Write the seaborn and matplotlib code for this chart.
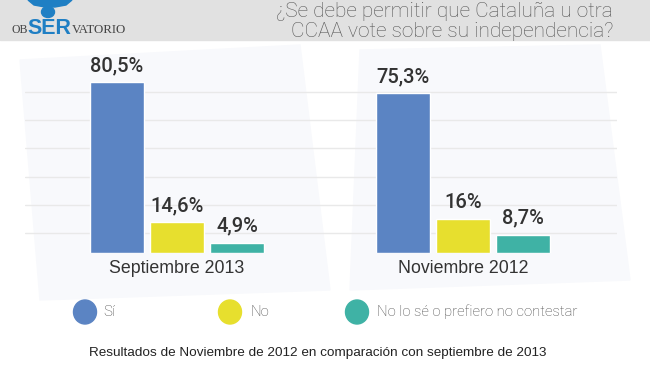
import pandas as pd
import matplotlib.pyplot as plt
import seaborn as sns
from matplotlib.patches import Ellipse, Rectangle, Polygon

# Datos de la encuesta
periodos = ["Septiembre 2013", "Noviembre 2012"]
respuestas = ["Sí", "No", "No lo sé o prefiero no contestar"]
si = [80.5, 75.3]
no = [14.6, 16.0]
ns_nc = [4.9, 8.7]

colores = ["#5b84c3", "#e7df2e", "#3fb2a5"]

df = pd.DataFrame({
    "periodo": periodos * 3,
    "respuesta": [r for r in respuestas for _ in periodos],
    "valor": si + no + ns_nc,
})

sns.set_theme(style="white")
plt.rcParams["font.family"] = ["Liberation Sans", "DejaVu Sans"]

fig = plt.figure(figsize=(6.5, 3.65), dpi=100)
fig.patch.set_facecolor("white")

# capa de fondo en coordenadas de pixel
bg = fig.add_axes([0, 0, 1, 1], zorder=0)
bg.set_xlim(0, 650)
bg.set_ylim(365, 0)
bg.axis("off")

# formas suaves del fondo
for pts in [
    [(20, 60), (300, 45), (330, 290), (40, 300)],
    [(360, 50), (600, 45), (630, 280), (350, 290)],
]:
    bg.add_patch(Polygon(pts, closed=True, color="#f8f9fc", zorder=0))

# banda de cabecera
bg.add_patch(Rectangle((0, 0), 650, 40, color="#e1e1e1", zorder=1))

# logo
bg.add_patch(Polygon([(28, 0), (72, 0), (66, 5), (55, 7), (45, 7), (34, 5)],
                     closed=True, color="#1f7fc4", zorder=2))
bg.add_patch(Ellipse((48, 12), 13, 11, color="#1f7fc4", zorder=2))
bg.text(11, 33, "OB", fontsize=8.5, family="Liberation Serif", color="#444444",
        va="baseline", ha="left", zorder=3)
bg.text(27.5, 34, "SER", fontsize=15.5, fontweight="bold", color="#1f7fc4",
        va="baseline", ha="left", zorder=3)
bg.text(72, 33, "VATORIO", fontsize=9.3, family="Liberation Serif", color="#444444",
        va="baseline", ha="left", zorder=3)

# titulo
for y, linea in [(17, "¿Se debe permitir que Cataluña u otra"),
                 (37, "CCAA vote sobre su independencia?")]:
    bg.text(613, y, linea, fontsize=15, family=["Roboto", "DejaVu Sans"],
            fontweight="light", color="#555555", ha="right", va="baseline", zorder=3)

# leyenda
for cx, tx, c, r in zip([85, 230, 357], [103, 250, 377], colores, respuestas):
    bg.add_patch(Ellipse((cx, 312), 23, 24, color=c, zorder=2))
    bg.text(tx, 312, r, fontsize=10.7, color="#444444", va="center", ha="left",
            family=["Roboto", "DejaVu Sans"], fontweight="light", zorder=3)

# pie
bg.text(318, 353, "Resultados de Noviembre de 2012 en comparación con septiembre de 2013",
        fontsize=9.7, color="#222222", ha="center", va="center", zorder=3)

# grafico de barras
ax = fig.add_axes([25 / 650, (365 - 253) / 365, 592 / 650, (253 - 60) / 365], zorder=1)
ax.patch.set_alpha(0)
sns.barplot(data=df, x="periodo", y="valor", hue="respuesta", order=periodos,
            hue_order=respuestas, palette=colores, width=0.63, gap=0.1,
            saturation=1, legend=False, ax=ax)

for cont in ax.containers:
    etiquetas = [f"{v:g}".replace(".", ",") + "%" for v in cont.datavalues]
    ax.bar_label(cont, labels=etiquetas, padding=5, fontsize=14.5,
                 family=["Roboto", "DejaVu Sans"], color="#333333",
                 fontweight="medium")

ax.set_xlim(-0.531, 1.538)
ax.set_ylim(0, 193 / 2.124)
ax.set_yticks([9.4, 22.6, 35.8, 49.4, 62.6, 75.8])
ax.set_yticklabels([])
ax.yaxis.grid(True, color="#e9e9e9", linewidth=1)
ax.set_axisbelow(True)
ax.tick_params(axis="x", length=0, pad=5, labelsize=12.8, labelcolor="#333333")
ax.tick_params(axis="y", length=0)
ax.set_xlabel("")
ax.set_ylabel("")
for s in ax.spines.values():
    s.set_visible(False)

fig.savefig("out.png", dpi=100)
